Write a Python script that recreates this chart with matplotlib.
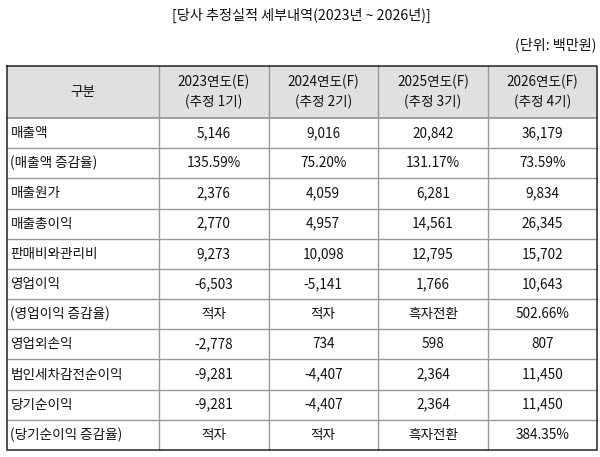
import matplotlib

matplotlib.use('Agg')
import matplotlib.pyplot as plt

plt.rcParams['font.family'] = ['Noto Sans CJK KR', 'DejaVu Sans']

# 표 데이터
title = "[당사 추정실적 세부내역(2023년 ~ 2026년)]"
unit = "(단위: 백만원)"
header_top = ["2023연도(E)", "2024연도(F)", "2025연도(F)", "2026연도(F)"]
header_sub = ["(추정 1기)", "(추정 2기)", "(추정 3기)", "(추정 4기)"]
row_labels = ["매출액", "(매출액 증감율)", "매출원가", "매출총이익", "판매비와관리비",
              "영업이익", "(영업이익 증감율)", "영업외손익", "법인세차감전순이익",
              "당기순이익", "(당기순이익 증감율)"]
y2023 = ["5,146", "135.59%", "2,376", "2,770", "9,273", "-6,503", "적자",
         "-2,778", "-9,281", "-9,281", "적자"]
y2024 = ["9,016", "75.20%", "4,059", "4,957", "10,098", "-5,141", "적자",
         "734", "-4,407", "-4,407", "적자"]
y2025 = ["20,842", "131.17%", "6,281", "14,561", "12,795", "1,766", "흑자전환",
         "598", "2,364", "2,364", "흑자전환"]
y2026 = ["36,179", "73.59%", "9,834", "26,345", "15,702", "10,643", "502.66%",
         "807", "11,450", "11,450", "384.35%"]
columns = [y2023, y2024, y2025, y2026]

# 레이아웃 (픽셀 단위)
col_edges = [6.5, 158.5, 268.5, 378, 488, 596.5]
top, head_bottom, bottom = 65.5, 118, 450
row_h = (bottom - head_bottom) / len(row_labels)
fs = 9.8

fig = plt.figure(figsize=(6, 4.57), dpi=100)
ax = fig.add_axes([0, 0, 1, 1])
ax.set_xlim(0, 600)
ax.set_ylim(457, 0)
ax.axis('off')

ax.text(301, 15.5, title, ha='center', va='center', fontsize=10.2, color='#111111')
ax.text(596, 44.5, unit, ha='right', va='center', fontsize=10.2, color='#111111')

# 헤더 배경
ax.fill_between([col_edges[0], col_edges[-1]], top, head_bottom, color='#e0e0e0', lw=0)

# 가로선
for i in range(len(row_labels)):
    y = head_bottom + i * row_h
    ax.plot([col_edges[0], col_edges[-1]], [y, y], color='#9a9a9a', lw=1.3 if i == 0 else 1.0)
# 세로선
for x in col_edges[1:-1]:
    ax.plot([x, x], [top, bottom], color='#9a9a9a', lw=1.0)
# 외곽선
ax.plot([col_edges[0], col_edges[-1], col_edges[-1], col_edges[0], col_edges[0]],
        [top, top, bottom, bottom, top], color='#222222', lw=1.1)

# 헤더 텍스트
ax.text((col_edges[0] + col_edges[1]) / 2, (top + head_bottom) / 2, "구분",
        ha='center', va='center', fontsize=fs, color='#111111')
for j in range(4):
    cx = (col_edges[j + 1] + col_edges[j + 2]) / 2
    ax.text(cx, top + 16.5, header_top[j], ha='center', va='center', fontsize=fs, color='#111111')
    ax.text(cx, top + 36.5, header_sub[j], ha='center', va='center', fontsize=fs, color='#111111')

# 본문
for i, label in enumerate(row_labels):
    cy = head_bottom + (i + 0.5) * row_h
    ax.text(col_edges[0] + 4, cy, label, ha='left', va='center', fontsize=fs, color='#111111')
    for j, col in enumerate(columns):
        cx = (col_edges[j + 1] + col_edges[j + 2]) / 2
        ax.text(cx, cy, col[i], ha='center', va='center', fontsize=fs, color='#111111')

plt.savefig('out.png', dpi=100)
plt.close()
